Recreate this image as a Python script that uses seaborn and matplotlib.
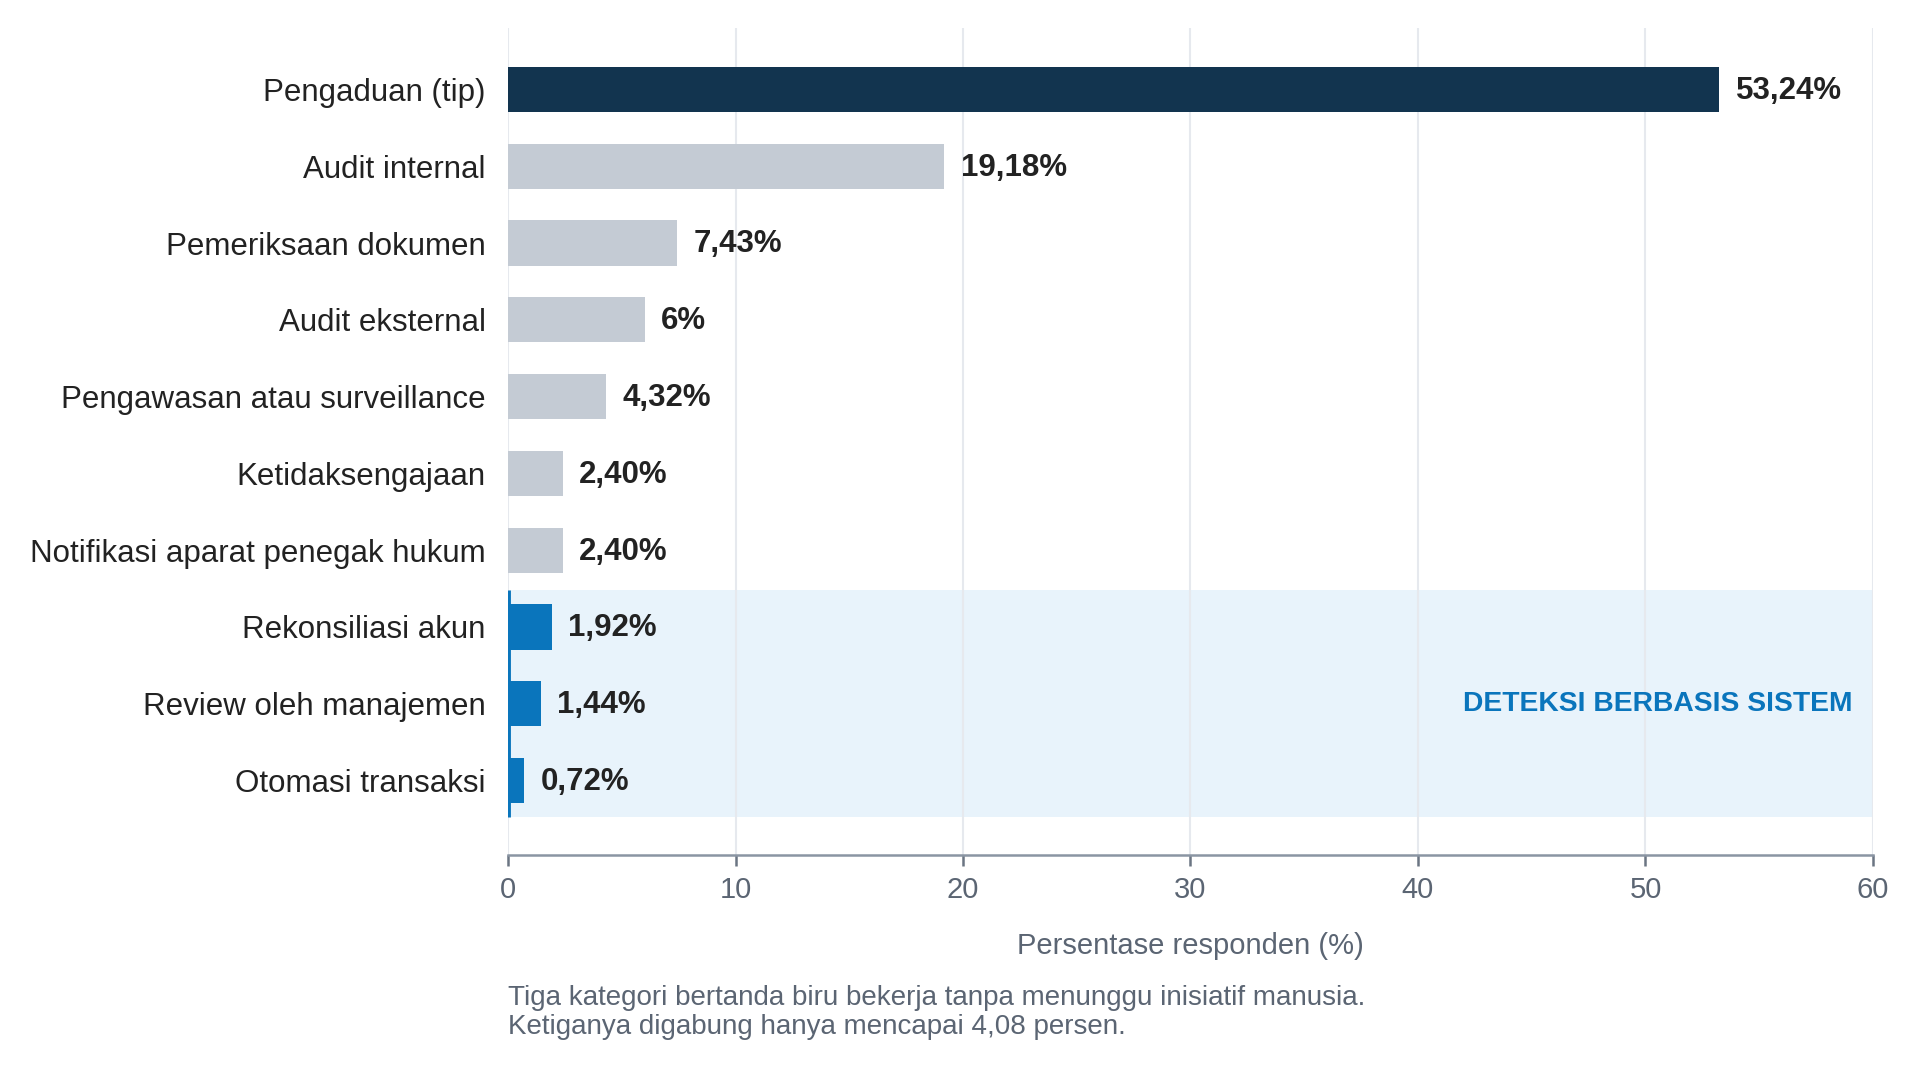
import matplotlib
matplotlib.use("Agg")
import matplotlib.pyplot as plt
import seaborn as sns

# Data
categories = [
    "Pengaduan (tip)",
    "Audit internal",
    "Pemeriksaan dokumen",
    "Audit eksternal",
    "Pengawasan atau surveillance",
    "Ketidaksengajaan",
    "Notifikasi aparat penegak hukum",
    "Rekonsiliasi akun",
    "Review oleh manajemen",
    "Otomasi transaksi",
]
values = [53.24, 19.18, 7.43, 6.00, 4.32, 2.40, 2.40, 1.92, 1.44, 0.72]
groups = ["top"] + ["manusia"] * 6 + ["sistem"] * 3
group_colors = {"top": "#12344f", "manusia": "#c4cbd4", "sistem": "#0a75bc"}
x_ticks = [0, 10, 20, 30, 40, 50, 60]


def fmt(v):
    if float(v).is_integer():
        return f"{int(v)}%"
    return f"{v:.2f}".replace(".", ",") + "%"


sns.set_theme(style="white")
plt.rcParams["font.family"] = ["Liberation Sans", "DejaVu Sans"]

fig = plt.figure(figsize=(19.2, 10.68), dpi=100)
ax = fig.add_axes([0.2646, 0.1994, 0.7109, 0.7744])

# band for the system-based categories
ax.axhspan(6.52, 9.47, color="#e8f3fb", zorder=0, lw=0)
ax.plot([0, 0], [6.52, 9.47], color="#0a75bc", lw=3.5, zorder=3, solid_capstyle="butt")

palette = [group_colors[g] for g in groups]
sns.barplot(x=values, y=categories, hue=categories, palette=palette, saturation=1,
            legend=False, width=0.59, linewidth=0, orient="h", ax=ax, zorder=2)

for i, v in enumerate(values):
    ax.annotate(fmt(v), xy=(v, i), xytext=(12, -1), textcoords="offset points",
                va="center", ha="left", fontsize=22.5, fontweight="bold", color="#222222")

ax.text(0.985, 8, "DETEKSI BERBASIS SISTEM", transform=ax.get_yaxis_transform(),
        ha="right", va="center", fontsize=20.3, fontweight="bold", color="#0a75bc")

ax.set_xlim(0, 60)
ax.set_ylim(9.97, -0.8)
ax.set_xticks(x_ticks)
ax.grid(axis="x", color="#e6e9ee", lw=1.5, zorder=1)
ax.set_axisbelow(True)
for s in ["top", "right", "left"]:
    ax.spines[s].set_visible(False)
ax.spines["bottom"].set_color("#8a95a3")
ax.spines["bottom"].set_linewidth(1.8)
ax.tick_params(axis="x", bottom=True, length=8, width=1.8, color="#6b7583",
               labelsize=21, labelcolor="#5b6573", pad=7)
ax.tick_params(axis="y", left=False, labelsize=22.5, labelcolor="#222222", pad=10)
ax.set_ylabel("")
ax.set_xlabel("Persentase responden (%)", fontsize=21, color="#5b6573", labelpad=20)

fig.text(0.2646, 0.078, "Tiga kategori bertanda biru bekerja tanpa menunggu inisiatif manusia.\n"
         "Ketiganya digabung hanya mencapai 4,08 persen.",
         fontsize=20, color="#5b6573", ha="left", va="top", linespacing=1.15)

fig.savefig("out.png", dpi=100)
